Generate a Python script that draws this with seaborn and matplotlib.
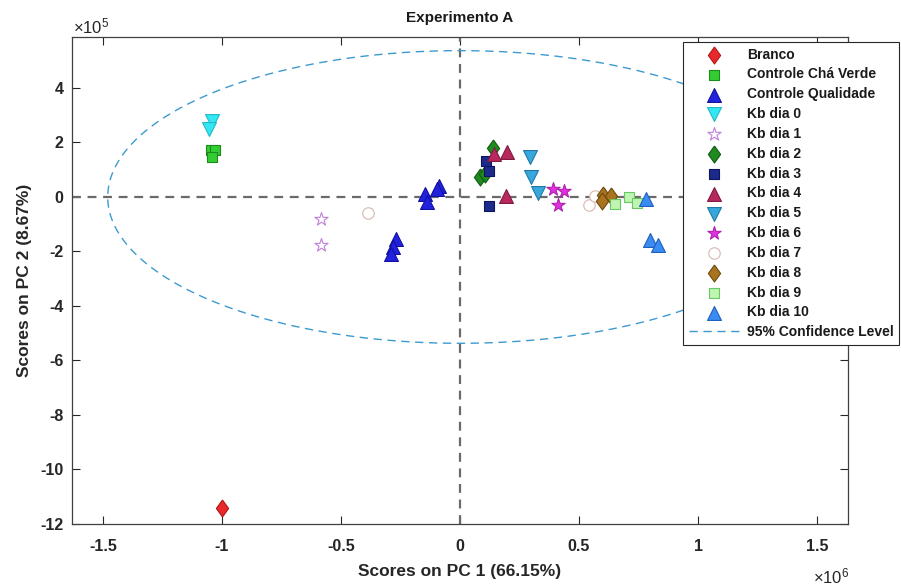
import numpy as np
import pandas as pd
import matplotlib
matplotlib.use("Agg")
import matplotlib.pyplot as plt
import seaborn as sns

# ---------------- data (PC1 in units of 1e6, PC2 in units of 1e5) ----------------
group_order = ["Branco", "Controle Chá Verde", "Controle Qualidade", "Kb dia 0",
               "Kb dia 1", "Kb dia 2", "Kb dia 3", "Kb dia 4", "Kb dia 5",
               "Kb dia 6", "Kb dia 7", "Kb dia 8", "Kb dia 9", "Kb dia 10"]

point_group = (["Branco"]
               + ["Controle Chá Verde"] * 3
               + ["Controle Qualidade"] * 7
               + ["Kb dia 0"] * 2
               + ["Kb dia 1"] * 2
               + ["Kb dia 2"] * 3
               + ["Kb dia 3"] * 3
               + ["Kb dia 4"] * 3
               + ["Kb dia 5"] * 3
               + ["Kb dia 6"] * 3
               + ["Kb dia 7"] * 3
               + ["Kb dia 8"] * 3
               + ["Kb dia 9"] * 3
               + ["Kb dia 10"] * 3)

pc1 = ([-1.00]
       + [-1.045, -1.030, -1.040]
       + [-0.270, -0.280, -0.290, -0.145, -0.140, -0.090, -0.095]
       + [-1.040, -1.055]
       + [-0.585, -0.585]
       + [0.140, 0.085, 0.105]
       + [0.110, 0.120, 0.120]
       + [0.143, 0.197, 0.193]
       + [0.295, 0.298, 0.328]
       + [0.392, 0.437, 0.410]
       + [-0.387, 0.542, 0.567]
       + [0.600, 0.634, 0.597]
       + [0.712, 0.744, 0.651]
       + [0.780, 0.800, 0.830])

pc2 = ([-11.40]
       + [1.72, 1.72, 1.45]
       + [-1.55, -1.85, -2.10, 0.10, -0.20, 0.40, 0.28]
       + [2.80, 2.50]
       + [-0.80, -1.76]
       + [1.78, 0.75, 0.85]
       + [1.32, 0.95, -0.32]
       + [1.58, 1.64, 0.05]
       + [1.47, 0.72, 0.15]
       + [0.30, 0.22, -0.30]
       + [-0.59, -0.29, 0.02]
       + [0.07, 0.04, -0.16]
       + [0.00, -0.22, -0.26]
       + [-0.08, -1.58, -1.77])

# 95% confidence ellipse semi-axes (PC1 in 1e6, PC2 in 1e5)
conf_a = 1.48
conf_b = 5.37

x_ticks = [-1.5, -1, -0.5, 0, 0.5, 1, 1.5]
y_ticks = [4, 2, 0, -2, -4, -6, -8, -10, -12]

# ---------------- styles ----------------
diamond = [(0, 1), (0.72, 0), (0, -1), (-0.72, 0), (0, 1)]
styles = {
    "Branco":             dict(marker=diamond, s=150, fc="#e8282a", ec="#b01818"),
    "Controle Chá Verde": dict(marker="s", s=62, fc="#33cc33", ec="#1a8c1a"),
    "Controle Qualidade": dict(marker="^", s=100, fc="#2222dd", ec="#1010a0"),
    "Kb dia 0":           dict(marker="v", s=100, fc="#33e8f2", ec="#22b8c8"),
    "Kb dia 1":           dict(marker="*", s=100, fc="white", ec="#c080d8"),
    "Kb dia 2":           dict(marker=diamond, s=150, fc="#1f8a1f", ec="#0f5a0f"),
    "Kb dia 3":           dict(marker="s", s=62, fc="#1c2a8a", ec="#0e1560"),
    "Kb dia 4":           dict(marker="^", s=100, fc="#b8285e", ec="#801a40"),
    "Kb dia 5":           dict(marker="v", s=100, fc="#38a8dc", ec="#1f78a8"),
    "Kb dia 6":           dict(marker="*", s=100, fc="#e030e0", ec="#b020b0"),
    "Kb dia 7":           dict(marker="o", s=68, fc="white", ec="#d8b8b0"),
    "Kb dia 8":           dict(marker=diamond, s=150, fc="#a8741e", ec="#6e4a10"),
    "Kb dia 9":           dict(marker="s", s=62, fc="#bff5b0", ec="#66c866"),
    "Kb dia 10":          dict(marker="^", s=100, fc="#3a8cf0", ec="#1e60c0"),
}

sns.set_style("ticks")
plt.rcParams["font.family"] = ["Liberation Sans", "DejaVu Sans"]
plt.rcParams["axes.unicode_minus"] = False
plt.rcParams["mathtext.fontset"] = "custom"
plt.rcParams["mathtext.rm"] = "Liberation Sans"
plt.rcParams["mathtext.it"] = "Liberation Sans"
plt.rcParams["mathtext.bf"] = "Liberation Sans:bold"

df = pd.DataFrame({"group": point_group, "pc1": pc1, "pc2": pc2})

fig = plt.figure(figsize=(9.01, 5.87), dpi=100)
ax = fig.add_axes([72 / 901, 1 - 524 / 587, (848 - 72) / 901, (524 - 37) / 587])

ax.axvline(0, color="#6a6a6a", lw=1.6, ls=(0, (4, 3)), zorder=1)
ax.axhline(0, color="#6a6a6a", lw=1.6, ls=(0, (4, 3)), zorder=1)

handles = []
for g in group_order:
    st = styles[g]
    sub = df[df["group"] == g]
    sns.scatterplot(data=sub, x="pc1", y="pc2", ax=ax, marker=st["marker"],
                    s=st["s"], color=st["fc"], edgecolor=st["ec"], linewidth=0.8,
                    label=g, zorder=3, legend=False)
    handles.append(ax.collections[-1])

t = np.linspace(0, 2 * np.pi, 400)
ell, = ax.plot(conf_a * np.cos(t), conf_b * np.sin(t), color="#3d9ad0",
               lw=1.0, ls=(0, (6, 4)), zorder=2, label="95% Confidence Level")
handles.append(ell)

ax.set_xlim(-1.63, 1.63)
ax.set_ylim(-12, 5.87)
ax.set_xticks(x_ticks)
ax.set_xticklabels([f"{v:g}" for v in x_ticks])
ax.set_yticks(y_ticks)
ax.set_yticklabels([f"{v:g}" for v in y_ticks])

ax.tick_params(axis="both", direction="in", length=5.6, width=0.8, color="#262626",
               labelcolor="#262626", labelsize=11.5, top=True, right=True)
ax.tick_params(axis="x", pad=11)
ax.tick_params(axis="y", pad=6)
for lab in ax.get_xticklabels() + ax.get_yticklabels():
    lab.set_fontweight("bold")
for sp in ax.spines.values():
    sp.set_color("#404040")
    sp.set_linewidth(0.9)
    sp.set_visible(True)

ax.set_xlabel("Scores on PC 1 (66.15%)", fontsize=12.5, fontweight="bold",
              color="#262626", labelpad=7)
ax.set_ylabel("Scores on PC 2 (8.67%)", fontsize=12.5, fontweight="bold",
              color="#262626", labelpad=6)
ax.set_title("Experimento A", fontsize=11, fontweight="bold", color="#1a1a1a", pad=11)

fig.text(73 / 901, 1 - 33 / 587, r"$\times10^{5}$", fontsize=12, color="#262626",
         ha="left", va="baseline")
fig.text(849 / 901, 1 - 583 / 587, r"$\times10^{6}$", fontsize=12, color="#262626",
         ha="right", va="baseline")

leg = fig.legend(handles=handles, labels=group_order + ["95% Confidence Level"],
                 loc="upper left", bbox_to_anchor=(683 / 901, 1 - 42 / 587),
                 borderaxespad=0, frameon=True, fancybox=False, framealpha=1,
                 edgecolor="#262626", labelspacing=0.42,
                 handlelength=3.6, handletextpad=0.6, borderpad=0.4,
                 prop={"weight": "bold", "size": 10})
leg.get_frame().set_linewidth(0.8)
for txt in leg.get_texts():
    txt.set_color("#1a1a1a")

fig.savefig("out.png", dpi=100)
